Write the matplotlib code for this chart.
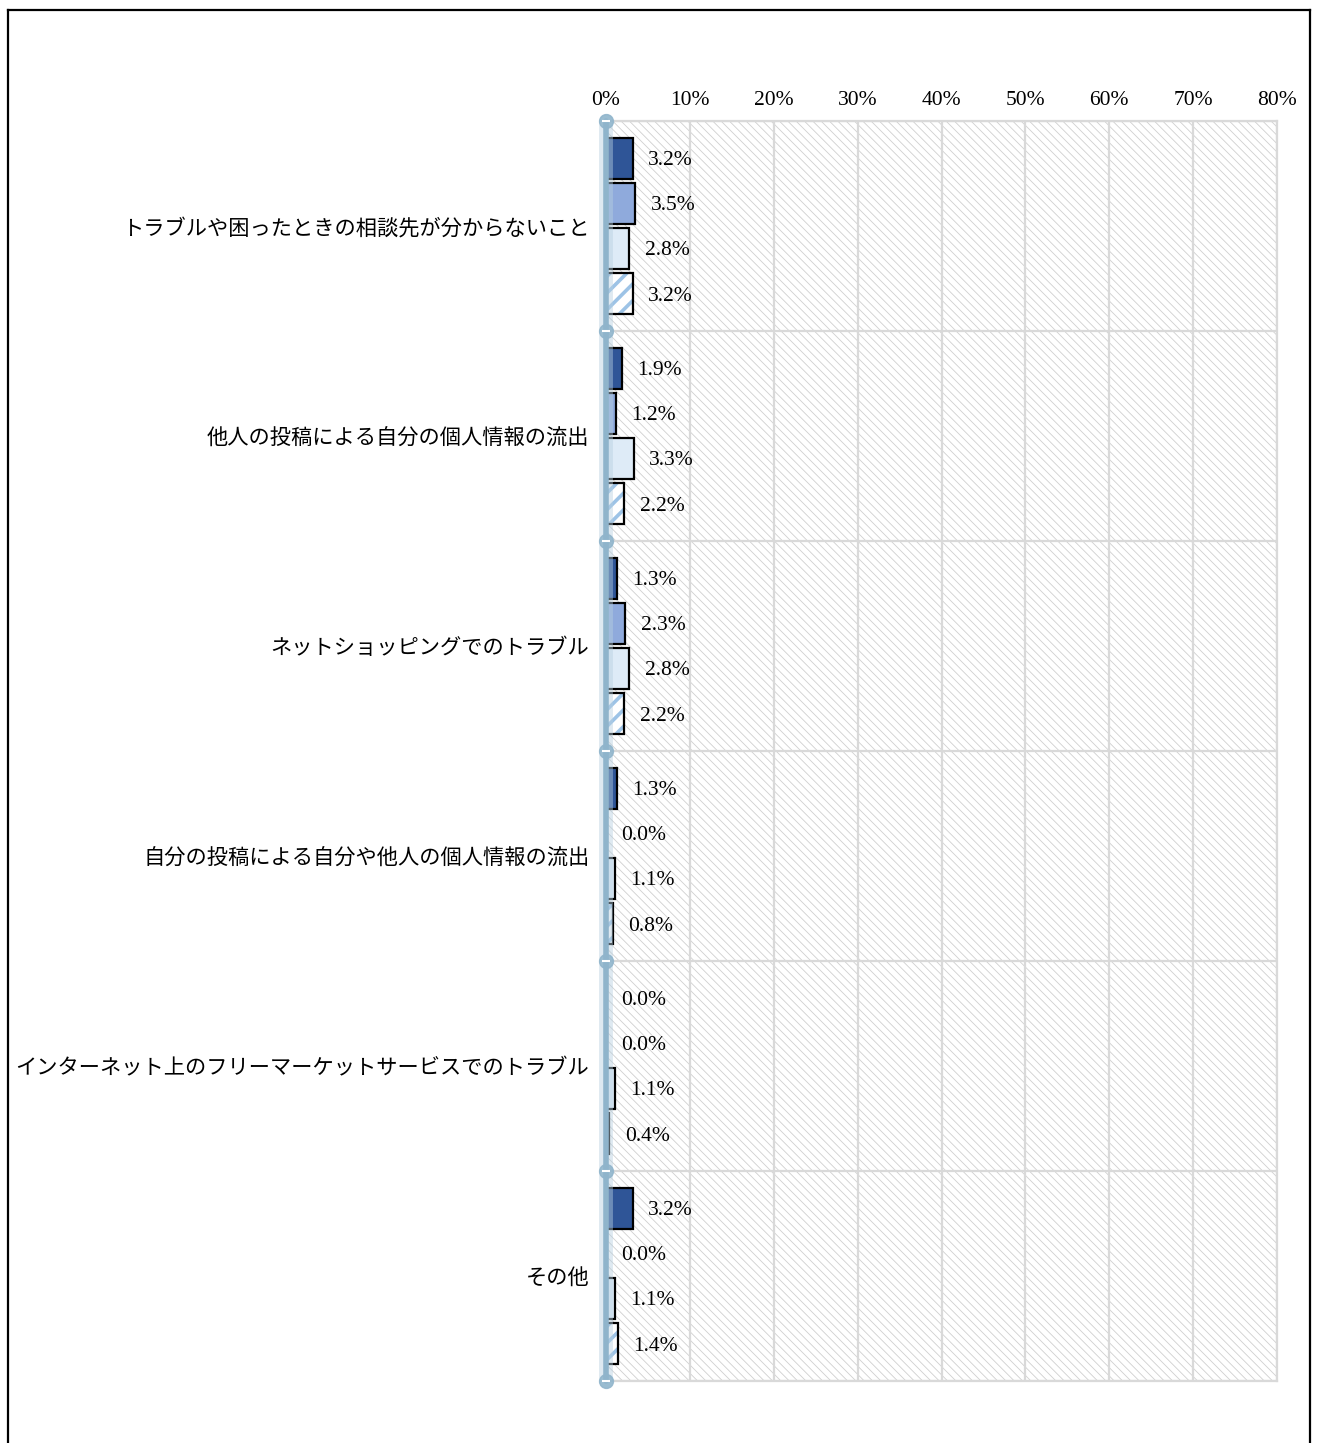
import matplotlib
matplotlib.use("Agg")
import matplotlib.pyplot as plt
from matplotlib.lines import Line2D
from matplotlib.patches import Rectangle
import numpy as np

categories = [
    "トラブルや困ったときの相談先が分からないこと",
    "他人の投稿による自分の個人情報の流出",
    "ネットショッピングでのトラブル",
    "自分の投稿による自分や他人の個人情報の流出",
    "インターネット上のフリーマーケットサービスでのトラブル",
    "その他",
]
series_a = [3.2, 1.9, 1.3, 1.3, 0.0, 3.2]
series_b = [3.5, 1.2, 2.3, 0.0, 0.0, 0.0]
series_c = [2.8, 3.3, 2.8, 1.1, 1.1, 1.1]
series_d = [3.2, 2.2, 2.2, 0.8, 0.4, 1.4]
x_ticks = [0, 10, 20, 30, 40, 50, 60, 70, 80]

JP = ["Noto Sans CJK JP", "DejaVu Sans"]
NUM = ["Liberation Serif", "DejaVu Serif"]

W, H = 1319, 1443
fig = plt.figure(figsize=(W / 100, H / 100), dpi=100)
ax = fig.add_axes([606 / W, 1 - 1381 / H, (1277 - 606) / W, (1381 - 121) / H])

n = len(categories)
y = np.arange(n)
step = 0.2157
bh = 0.195

# hatched background
bg = Rectangle((0, 0), 1, 1, transform=ax.transAxes, facecolor="white",
               edgecolor="#cfcfcf", hatch="\\\\\\\\", linewidth=0, zorder=0)
try:
    bg.set_hatch_linewidth(0.6)
except AttributeError:
    pass
ax.add_patch(bg)

# grid
for t in x_ticks:
    ax.axvline(t, color="#d9d9d9", lw=1.6, zorder=1)
for b in np.arange(-0.5, n, 1.0):
    ax.axhline(b, color="#d9d9d9", lw=1.6, zorder=1)

fills = ["#2f5597", "#8faadc", "#deebf7", "white"]
allser = [series_a, series_b, series_c, series_d]
for k, vals in enumerate(allser):
    ypos = y + (k - 1.5) * step
    if k == 3:
        hb = ax.barh(ypos, vals, height=bh, color="white", edgecolor="#9dc3e6",
                     hatch="//", linewidth=0, zorder=3)
        for p in hb.patches:
            try:
                p.set_hatch_linewidth(2.6)
            except AttributeError:
                pass
        ax.barh(ypos, vals, height=bh, fill=False, edgecolor="black",
                linewidth=1.6, zorder=4)
    else:
        ax.barh(ypos, vals, height=bh, color=fills[k], edgecolor="black",
                linewidth=1.6, zorder=3)
    for yy, v in zip(ypos, vals):
        ax.annotate(f"{v:.1f}%", (v, yy), xytext=(11, -1.5), textcoords="offset points",
                    ha="left", va="center", fontsize=15.5, family=NUM, zorder=6)

ax.set_xlim(0, 80)
ax.set_ylim(n - 0.5, -0.5)
ax.set_xticks(x_ticks)
ax.set_xticklabels([f"{t}%" for t in x_ticks], family=NUM, fontsize=15.5)
ax.xaxis.tick_top()
ax.tick_params(axis="x", length=0, pad=8)
ax.set_yticks(y)
ax.set_yticklabels(categories, family=JP, fontsize=15.3)
ax.tick_params(axis="y", length=0, pad=12)

for s in ["top", "right", "bottom"]:
    ax.spines[s].set_color("#d9d9d9")
    ax.spines[s].set_linewidth(1.6)
ax.spines["left"].set_visible(False)

# glowing left axis
ax.plot([0, 0], [-0.5, n - 0.5], color="#b7d0e0", lw=10, alpha=0.45,
        solid_capstyle="round", zorder=7, clip_on=False)
ax.plot([0, 0], [-0.5, n - 0.5], color="#8fb4cb", lw=4,
        solid_capstyle="round", zorder=8, clip_on=False)
bounds = np.arange(-0.5, n, 1.0)
ax.plot(np.zeros_like(bounds), bounds, "o", ms=10, color="#8fb4cb", alpha=0.85,
        zorder=9, clip_on=False)
ax.plot(np.zeros_like(bounds), bounds, "_", ms=6, mew=1.5, color="white",
        zorder=10, clip_on=False)

# outer frame
lc = "black"
fig.add_artist(Line2D([8 / W, 8 / W], [0, 1 - 10 / H], color=lc, lw=1.6))
fig.add_artist(Line2D([1310 / W, 1310 / W], [0, 1 - 10 / H], color=lc, lw=1.6))
fig.add_artist(Line2D([8 / W, 1310 / W], [1 - 10 / H, 1 - 10 / H], color=lc, lw=1.6))

fig.savefig("out.png", dpi=100, facecolor="white")
